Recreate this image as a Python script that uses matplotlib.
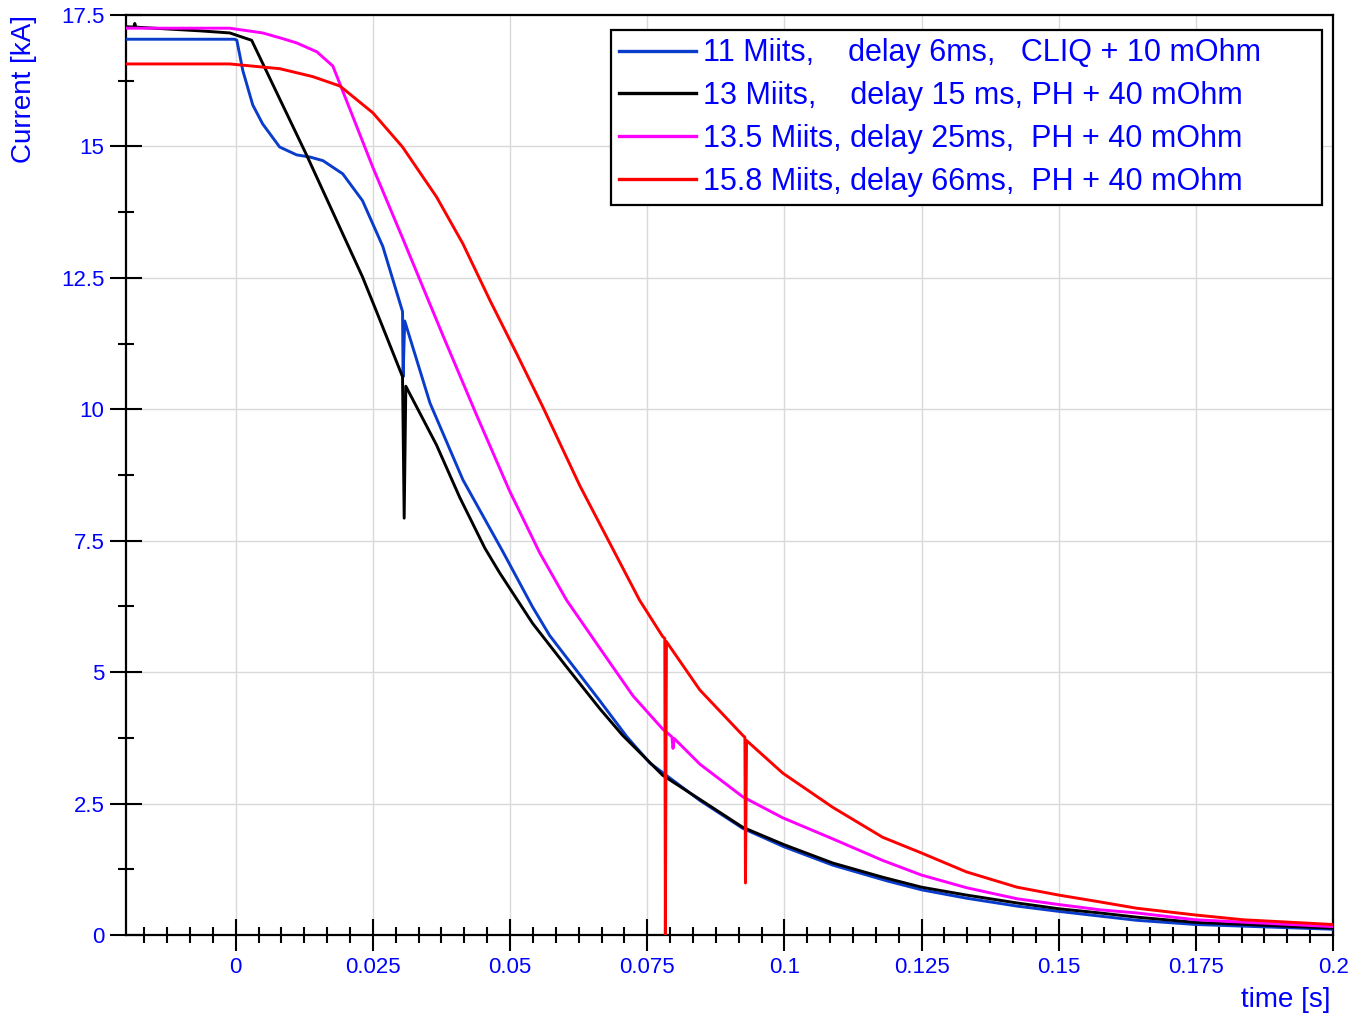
import matplotlib
matplotlib.use("Agg")
import matplotlib.pyplot as plt
from matplotlib.ticker import MultipleLocator, AutoMinorLocator, FuncFormatter

plt.rcParams['font.family'] = ['Liberation Sans', 'DejaVu Sans']

# values (time in s, current in kA)
t_cliq = [-0.0200, -0.0002, 0.0002, 0.0013, 0.0031, 0.0049, 0.0080, 0.0111, 0.0135, 0.0159,
          0.0195, 0.0231, 0.0268, 0.0304, 0.0305, 0.0308, 0.0354, 0.0414, 0.0487, 0.0541,
          0.0572, 0.0664, 0.0713, 0.0755, 0.0846, 0.0924, 0.0999, 0.1088, 0.1187, 0.1250,
          0.1332, 0.1424, 0.1500, 0.1575, 0.1642, 0.1750, 0.2000]
i_cliq = [17.04, 17.04, 17.02, 16.44, 15.79, 15.43, 14.99, 14.84, 14.80, 14.73,
          14.48, 13.97, 13.10, 11.86, 10.62, 11.68, 10.12, 8.66, 7.29, 6.24,
          5.70, 4.45, 3.77, 3.27, 2.56, 2.03, 1.68, 1.33, 1.03, 0.86,
          0.70, 0.55, 0.45, 0.36, 0.28, 0.20, 0.11]

t_ph15 = [-0.0200, -0.0186, -0.0184, -0.0182, -0.0066, -0.0011, 0.0029, 0.0129, 0.0231, 0.0257,
          0.0304, 0.0307, 0.0310, 0.0366, 0.0408, 0.0454, 0.0481, 0.0541, 0.0603, 0.0664,
          0.0705, 0.0778, 0.0846, 0.0924, 0.0999, 0.1088, 0.1179, 0.1250, 0.1332, 0.1424,
          0.1500, 0.1575, 0.1642, 0.1750, 0.2000]
i_ph15 = [17.28, 17.27, 17.34, 17.27, 17.20, 17.16, 17.02, 14.84, 12.52, 11.85,
          10.62, 7.93, 10.44, 9.32, 8.33, 7.36, 6.89, 5.93, 5.10, 4.30,
          3.80, 3.04, 2.58, 2.05, 1.72, 1.37, 1.10, 0.91, 0.76, 0.61,
          0.50, 0.42, 0.34, 0.24, 0.13]

t_ph25 = [-0.0200, -0.0011, 0.0049, 0.0086, 0.0111, 0.0148, 0.0177, 0.0250, 0.0304, 0.0377,
          0.0439, 0.0499, 0.0554, 0.0603, 0.0664, 0.0724, 0.0778, 0.0795, 0.0797, 0.0799,
          0.0846, 0.0924, 0.0997, 0.1088, 0.1179, 0.1250, 0.1332, 0.1424, 0.1500, 0.1575,
          0.1642, 0.1750, 0.2000]
i_ph25 = [17.25, 17.25, 17.16, 17.05, 16.97, 16.80, 16.53, 14.60, 13.26, 11.42,
          9.89, 8.45, 7.27, 6.37, 5.45, 4.55, 3.92, 3.77, 3.55, 3.74,
          3.25, 2.63, 2.23, 1.83, 1.42, 1.14, 0.90, 0.69, 0.58, 0.48,
          0.42, 0.29, 0.16]

t_ph66 = [-0.0200, -0.0011, 0.0080, 0.0140, 0.0190, 0.0250, 0.0304, 0.0366, 0.0414, 0.0463,
          0.0512, 0.0560, 0.0627, 0.0687, 0.0736, 0.0778, 0.0782, 0.0783, 0.0785, 0.0846,
          0.0924, 0.0928, 0.0929, 0.0931, 0.0997, 0.1088, 0.1179, 0.1250, 0.1332, 0.1424,
          0.1500, 0.1575, 0.1642, 0.1750, 0.1837, 0.2000]
i_ph66 = [16.57, 16.57, 16.48, 16.33, 16.15, 15.64, 14.99, 14.04, 13.15, 12.08,
          11.06, 10.04, 8.55, 7.35, 6.37, 5.68, 5.64, 0.00, 5.58, 4.66,
          3.80, 3.76, 0.99, 3.70, 3.08, 2.43, 1.86, 1.56, 1.20, 0.91,
          0.76, 0.63, 0.51, 0.38, 0.29, 0.20]

labels = ["11 Miits,    delay 6ms,   CLIQ + 10 mOhm",
          "13 Miits,    delay 15 ms, PH + 40 mOhm",
          "13.5 Miits, delay 25ms,  PH + 40 mOhm",
          "15.8 Miits, delay 66ms,  PH + 40 mOhm"]
colours = ['#0a3ccc', 'black', '#ff00ff', '#ff0000']

txt_blue = '#0000ff'

fig = plt.figure(figsize=(13.52, 10.17), dpi=100)
ax = fig.add_axes([0.0932, 0.0806, 0.8928, 0.9046])

series = [(t_cliq, i_cliq), (t_ph15, i_ph15), (t_ph25, i_ph25), (t_ph66, i_ph66)]
for (t, cur), lab, col in zip(series, labels, colours):
    ax.plot(t, cur, color=col, linewidth=2.1, label=lab, zorder=3,
            solid_joinstyle='round')

ax.set_xlim(-0.02, 0.2)
ax.set_ylim(0, 17.5)

ax.xaxis.set_major_locator(MultipleLocator(0.025))
ax.xaxis.set_minor_locator(AutoMinorLocator(6))
ax.yaxis.set_major_locator(MultipleLocator(2.5))
ax.yaxis.set_minor_locator(AutoMinorLocator(2))
fmt = FuncFormatter(lambda v, p: "%g" % round(v, 4))
ax.xaxis.set_major_formatter(fmt)
ax.yaxis.set_major_formatter(fmt)

ax.grid(which='major', color='#d9d9d9', linewidth=1.0, zorder=0)
ax.set_axisbelow(True)

for s in ax.spines.values():
    s.set_linewidth(1.6)
    s.set_color('black')

ax.tick_params(which='major', direction='inout', length=23, width=1.5,
               labelsize=16, labelcolor=txt_blue, color='black')
ax.tick_params(which='minor', direction='inout', length=11, width=1.5, color='black')
ax.tick_params(axis='x', which='major', pad=4)
ax.tick_params(axis='y', which='major', pad=4)

ax.set_ylabel("Current [kA]", fontsize=20, color=txt_blue, loc='top')
ax.yaxis.set_label_coords(-0.0737, 1.0)
ax.set_xlabel("time [s]", fontsize=20, color=txt_blue, loc='right')
ax.xaxis.set_label_coords(0.998, -0.056)

leg = ax.legend(loc='upper left', bbox_to_anchor=(0.4018, 0.7989, 0.5891, 0.1848),
                mode='expand', borderaxespad=0, fontsize=22, handlelength=2.5,
                handletextpad=0.25, labelspacing=0.42, borderpad=0.27,
                fancybox=False, framealpha=1)
leg.get_frame().set_edgecolor('black')
leg.get_frame().set_linewidth(1.6)
for txt in leg.get_texts():
    txt.set_color(txt_blue)
for ln in leg.get_lines():
    ln.set_linewidth(2.4)

fig.savefig("out.png", dpi=100)
